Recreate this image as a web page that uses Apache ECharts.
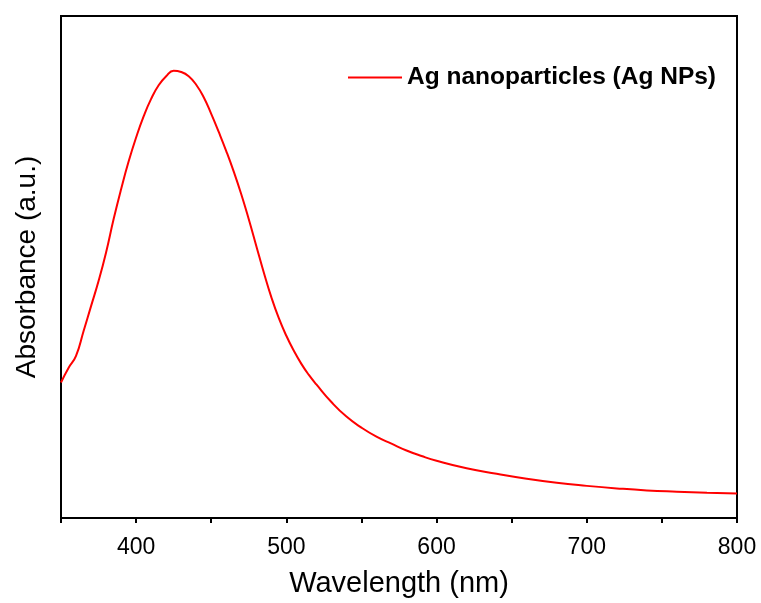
<!DOCTYPE html>
<html>
<head>
<meta charset="utf-8">
<script src="https://cdn.jsdelivr.net/npm/echarts@6/dist/echarts.min.js"></script>
<style>
  html, body { margin: 0; padding: 0; background: #fff; }
  #chart { width: 761px; height: 603px; }
</style>
</head>
<body>
<div id="chart"></div>
<script>
// UV-Vis absorbance spectrum of silver nanoparticles (arbitrary units)
const wavelengths = [350, 355, 360, 365, 370, 375, 380, 385, 390, 395, 400, 405, 410, 415,
  420, 425, 430, 435, 440, 445, 450, 455, 460, 465, 470, 475, 480, 485, 490, 495, 500,
  505, 510, 515, 520, 530, 540, 550, 560, 570, 580, 590, 600, 620, 640, 660, 680, 700,
  720, 740, 760, 780, 800];
const absorbance = [27.0, 29.9, 32.3, 37.2, 42.2, 47.2, 52.9, 59.5, 65.5, 71.0, 75.8, 80.0, 83.5, 86.2,
  88.0, 89.1, 88.85, 88.0, 86.3, 83.8, 80.5, 76.9, 73.1, 69.0, 64.5, 59.5, 54.2, 48.9, 44.0, 39.8, 36.3,
  33.3, 30.7, 28.5, 26.6, 23.1, 20.2, 18.0, 16.2, 14.8, 13.45, 12.35, 11.4, 9.9, 8.8, 7.8, 7.0, 6.4,
  5.9, 5.5, 5.25, 5.05, 4.9];
const seriesName = 'Ag nanoparticles (Ag NPs)';
const xTitle = 'Wavelength (nm)';
const yTitle = 'Absorbance (a.u.)';

const points = wavelengths.map((w, i) => [w, absorbance[i]]);
const font = 'Arial, "Liberation Sans", sans-serif';

const chart = echarts.init(document.getElementById('chart'), null, { renderer: 'canvas' });
chart.setOption({
  backgroundColor: '#fff',
  animation: false,
  grid: {
    left: 61, top: 16, right: 24, bottom: 84,
    show: true, borderColor: '#000', borderWidth: 2, backgroundColor: 'transparent'
  },
  legend: {
    left: 348, top: 65, padding: 0,
    icon: 'rect', itemWidth: 54, itemHeight: 2, itemGap: 6,
    textStyle: { fontFamily: font, fontWeight: 'bold', fontSize: 24.5, color: '#000' },
    data: [seriesName]
  },
  xAxis: {
    type: 'value', min: 350, max: 800, interval: 50,
    name: xTitle, nameLocation: 'middle', nameGap: 51,
    nameTextStyle: { fontFamily: font, fontSize: 29, color: '#000' },
    axisLine: { show: true, lineStyle: { color: '#000', width: 2 } },
    axisTick: { show: true, length: 5, lineStyle: { color: '#000', width: 2 } },
    axisLabel: {
      margin: 18, fontFamily: font, fontSize: 23, color: '#000',
      formatter: v => (v % 100 === 0 ? String(v) : '')
    },
    splitLine: { show: false }
  },
  yAxis: {
    type: 'value', min: 0, max: 100,
    name: yTitle, nameLocation: 'middle', nameGap: 20, nameRotate: 90,
    nameTextStyle: { fontFamily: font, fontSize: 28, color: '#000' },
    axisLine: { show: true, lineStyle: { color: '#000', width: 2 } },
    axisTick: { show: false },
    axisLabel: { show: false },
    splitLine: { show: false }
  },
  series: [{
    name: seriesName,
    type: 'line',
    data: points,
    smooth: 0.5,
    symbol: 'none',
    lineStyle: { color: '#ff0000', width: 2 },
    itemStyle: { color: '#ff0000' }
  }]
});
</script>
</body>
</html>
